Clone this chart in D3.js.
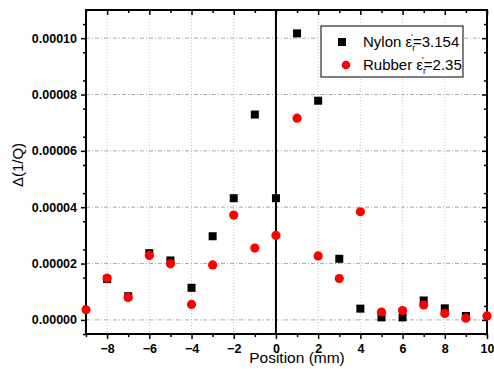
<!DOCTYPE html>
<html>
<head>
<meta charset="utf-8">
<script src="https://cdn.jsdelivr.net/npm/d3@7"></script>
<style>
body { margin: 0; background: #fff; }
text { font-family: Arial, "Liberation Sans", sans-serif; }
</style>
</head>
<body>
<svg width="494" height="369"></svg>
<script>
// positions (mm) and delta(1/Q)
const nylonX = [-8, -7, -6, -5, -4, -3, -2, -1, 0, 1, 2, 3, 4, 5, 6, 7, 8, 9];
const nylonY = [0.0000145, 0.0000084, 0.0000237, 0.0000211, 0.0000114, 0.0000297, 0.0000432, 0.0000729,
  0.0000432, 0.0001017, 0.0000778, 0.0000217, 0.0000040, 0.0000009, 0.0000009, 0.0000069, 0.0000041, 0.0000014];
const rubberX = [-9, -8, -7, -6, -5, -4, -3, -2, -1, 0, 1, 2, 3, 4, 5, 6, 7, 8, 9, 10];
const rubberY = [0.0000036, 0.0000148, 0.0000080, 0.0000229, 0.0000199, 0.0000055, 0.0000195, 0.0000372, 0.0000255,
  0.0000300, 0.0000716, 0.0000227, 0.0000147, 0.0000384, 0.0000028, 0.0000033, 0.0000053, 0.0000023, 0.0000006, 0.0000014];
const xTicks = [-8, -6, -4, -2, 0, 2, 4, 6, 8, 10];
const yTicks = [0, 0.00002, 0.00004, 0.00006, 0.00008, 0.00010];

const svg = d3.select('svg');
const pLeft = 86, pRight = 487, pTop = 10, pBottom = 334;

const x = d3.scaleLinear().domain([-9, 10]).range([pLeft, pRight]);
const y = d3.scaleLinear().domain([-0.000005, 0.00011]).range([pBottom, pTop]);

const g = svg.append('g');

// grid
g.selectAll('.vgrid').data(xTicks.filter(d => d !== 0 && d !== 10))
  .enter().append('line')
    .attr('x1', d => x(d)).attr('x2', d => x(d))
    .attr('y1', pTop).attr('y2', pBottom)
    .attr('stroke', '#c8c8c8').attr('stroke-width', 1)
    .attr('stroke-dasharray', '1,2');
g.selectAll('.hgrid').data(yTicks)
  .enter().append('line')
    .attr('x1', pLeft).attr('x2', pRight)
    .attr('y1', d => y(d)).attr('y2', d => y(d))
    .attr('stroke', '#a8a8a8').attr('stroke-width', 1)
    .attr('stroke-dasharray', '4,2,1,2');

// zero line
g.append('line')
  .attr('x1', x(0)).attr('x2', x(0)).attr('y1', pTop).attr('y2', pBottom)
  .attr('stroke', '#000').attr('stroke-width', 2);

// axes
const fmt = d3.format('.5f');
const minorX = d3.range(-9, 11, 1);
const minorY = d3.range(-0.000005, 0.000111, 0.00001).map(v => +v.toFixed(7));

const bottomAxis = d3.axisBottom(x).tickValues(xTicks).tickSize(5).tickPadding(5).tickFormat(d3.format('d'));
const leftAxis = d3.axisLeft(y).tickValues(yTicks).tickSize(5).tickPadding(4).tickFormat(fmt);

const ax = svg.append('g').attr('transform', `translate(0,${pBottom})`).call(bottomAxis);
const ay = svg.append('g').attr('transform', `translate(${pLeft},0)`).call(leftAxis);
const axMinor = svg.append('g').attr('transform', `translate(0,${pBottom})`)
  .call(d3.axisBottom(x).tickValues(minorX.filter(d => d % 2 !== 0)).tickSize(3).tickFormat(''));
const ayMinor = svg.append('g').attr('transform', `translate(${pLeft},0)`)
  .call(d3.axisLeft(y).tickValues(minorY).tickSize(3).tickFormat(''));
const axTop = svg.append('g').attr('transform', `translate(0,${pTop})`)
  .call(d3.axisBottom(x).tickValues(xTicks).tickSize(5).tickFormat(''));
const axTopMinor = svg.append('g').attr('transform', `translate(0,${pTop})`)
  .call(d3.axisBottom(x).tickValues(minorX.filter(d => d % 2 !== 0)).tickSize(3).tickFormat(''));
const ayRight = svg.append('g').attr('transform', `translate(${pRight},0)`)
  .call(d3.axisLeft(y).tickValues(yTicks).tickSize(5).tickFormat(''));
const ayRightMinor = svg.append('g').attr('transform', `translate(${pRight},0)`)
  .call(d3.axisLeft(y).tickValues(minorY).tickSize(3).tickFormat(''));

[ax, ay, axMinor, ayMinor, axTop, axTopMinor, ayRight, ayRightMinor].forEach(a => {
  a.select('.domain').remove();
  a.selectAll('line').attr('stroke', '#000').attr('stroke-width', 1.5);
  a.selectAll('text').attr('font-size', 12.5).attr('font-weight', 'bold').attr('fill', '#000')
    .style('font-family', 'Arial, "Liberation Sans", sans-serif');
});

// frame
svg.append('rect')
  .attr('x', pLeft).attr('y', pTop).attr('width', pRight - pLeft).attr('height', pBottom - pTop)
  .attr('fill', 'none').attr('stroke', '#000').attr('stroke-width', 2);

// data
const sz = 8;
svg.append('g').selectAll('rect').data(nylonX)
  .enter().append('rect')
    .attr('x', (d, i) => x(d) - sz / 2)
    .attr('y', (d, i) => y(nylonY[i]) - sz / 2)
    .attr('width', sz).attr('height', sz)
    .attr('fill', '#000');
svg.append('g').selectAll('circle').data(rubberX)
  .enter().append('circle')
    .attr('cx', d => x(d))
    .attr('cy', (d, i) => y(rubberY[i]))
    .attr('r', 4.6)
    .attr('fill', '#ff0000');

// axis titles
svg.append('text')
  .attr('x', 297).attr('y', 363)
  .attr('text-anchor', 'middle').attr('font-size', 15.5)
  .text('Position (mm)');
svg.append('text')
  .attr('transform', `translate(23,165) rotate(-90)`)
  .attr('text-anchor', 'middle').attr('font-size', 15)
  .text('Δ(1/Q)');

// legend
const lg = svg.append('g');
lg.append('rect')
  .attr('x', 321).attr('y', 26).attr('width', 142).attr('height', 51)
  .attr('fill', '#fff').attr('stroke', '#000').attr('stroke-width', 1);
lg.append('rect').attr('x', 342 - 4).attr('y', 42 - 4).attr('width', 8).attr('height', 8).attr('fill', '#000');
lg.append('circle').attr('cx', 346).attr('cy', 65).attr('r', 4.3).attr('fill', '#ff0000');

const entries = [['Nylon ', '3.154', 47], ['Rubber ', '2.35', 70]];
entries.forEach(([name, val, ty]) => {
  const t = lg.append('text').attr('x', 363).attr('y', ty).attr('font-size', 15);
  t.append('tspan').text(name + 'ε');
  t.append('tspan').attr('font-size', 9).attr('dy', 4).text('r');
  t.append('tspan').attr('font-size', 9).attr('dx', -4).attr('dy', -11).text('\'');
  t.append('tspan').attr('dy', 7).text('=' + val);
});
</script>
</body>
</html>
